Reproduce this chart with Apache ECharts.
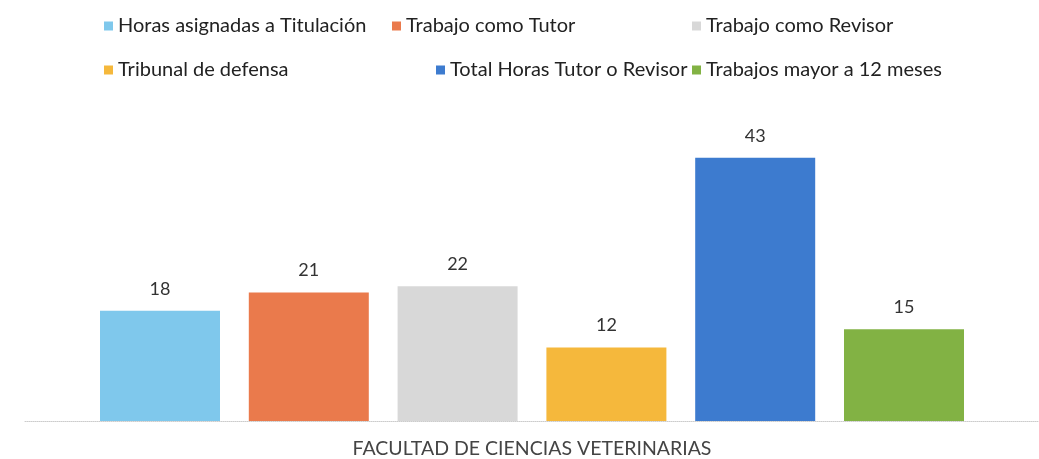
<!DOCTYPE html>
<html><head><meta charset="utf-8">
<script src="https://cdn.jsdelivr.net/npm/echarts@6/dist/echarts.min.js"></script>
<style>html,body{margin:0;padding:0;background:#fff}#c{width:1039px;height:459px}</style>
</head><body><div id="c"></div>
<script>
const categories = ['FACULTAD DE CIENCIAS VETERINARIAS'];
const seriesNames = ['Horas asignadas a Titulación','Trabajo como Tutor','Trabajo como Revisor','Tribunal de defensa','Total Horas Tutor o Revisor','Trabajos mayor a 12 meses'];
const seriesValues = [[18],[21],[22],[12],[43],[15]];
const colors = ['#7fc8ec','#ea7a4c','#d8d8d8','#f5b83c','#3d7bcf','#82b244'];
const legendPos = [[104,16],[392,16],[692,16],[104,60],[436,60],[692,60]];

const font = 'Lato, "Open Sans", sans-serif';
const chart = echarts.init(document.getElementById('c'));
chart.setOption({
  backgroundColor:'#fff',
  animation:false,
  color:colors,
  legend: seriesNames.map((n,i)=>({
    data:[n], left:legendPos[i][0], top:legendPos[i][1], padding:0,
    itemWidth:9, itemHeight:9, itemGap:4, icon:'rect',
    textStyle:{fontSize:20, color:'#222', fontFamily:font, padding:[0,0,0,0]}
  })),
  grid:{left:25,right:0,top:115,bottom:37},
  xAxis:{type:'category',data:categories,
    axisLine:{lineStyle:{color:'#cccccc',type:'dotted',width:1}},
    axisTick:{show:false},
    axisLabel:{fontSize:19.5,color:'#444',margin:18,fontFamily:font}},
  yAxis:{type:'value',min:0,max:50,show:false,splitLine:{show:false}},
  series: seriesNames.map((n,i)=>({
    name:n,type:'bar',data:seriesValues[i],barWidth:120,barGap:'24%',
    itemStyle:{color:colors[i]},
    label:{show:true,position:'top',distance:13,fontSize:18,color:'#333',fontFamily:font}
  }))
});
</script></body></html>
